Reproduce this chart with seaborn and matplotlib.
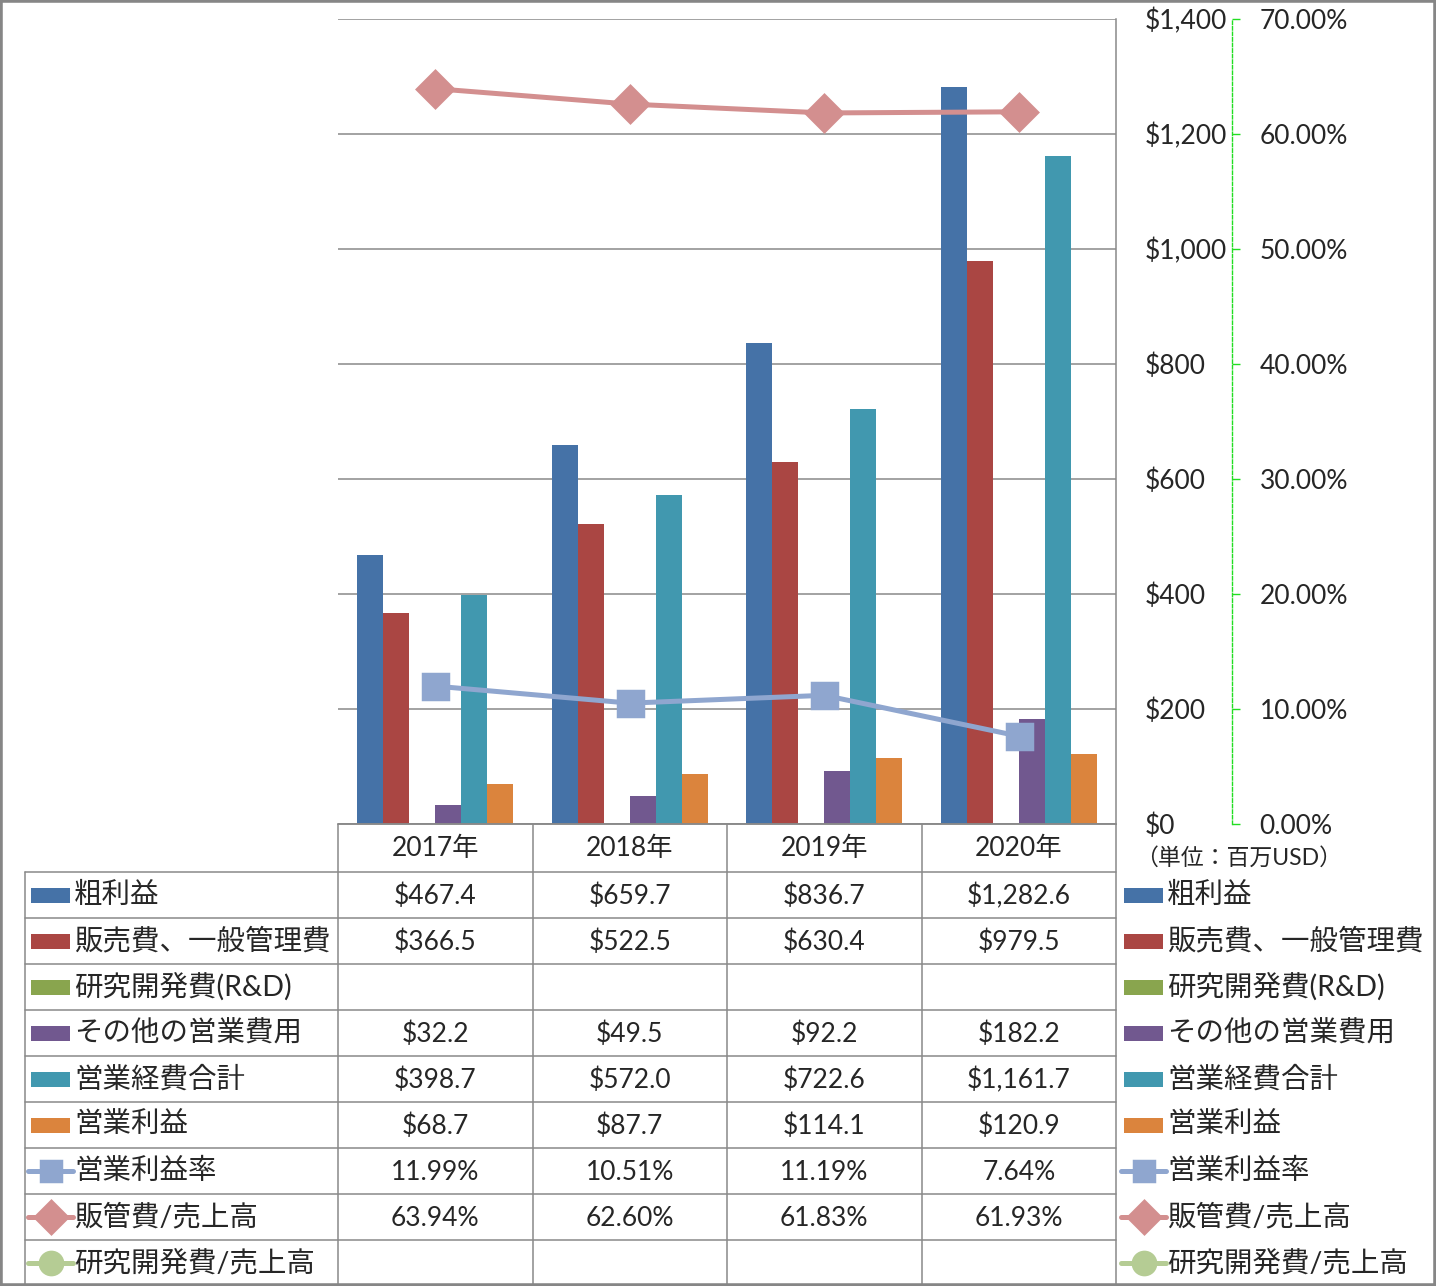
import numpy as np
import pandas as pd
import seaborn as sns
import matplotlib
matplotlib.use('Agg')
import matplotlib.pyplot as plt
from matplotlib.transforms import blended_transform_factory
from matplotlib.patches import Rectangle
from matplotlib.lines import Line2D
from matplotlib.ticker import FuncFormatter, FixedLocator

# ---------------- data ----------------
years = ['2017年', '2018年', '2019年', '2020年']
bar_series = ['粗利益', '販売費、一般管理費', '研究開発費(R&D)', 'その他の営業費用', '営業経費合計', '営業利益']
gross_profit = [467.4, 659.7, 836.7, 1282.6]
sga = [366.5, 522.5, 630.4, 979.5]
rnd = [np.nan, np.nan, np.nan, np.nan]
other_opex = [32.2, 49.5, 92.2, 182.2]
total_opex = [398.7, 572.0, 722.6, 1161.7]
op_income = [68.7, 87.7, 114.1, 120.9]

line_series = ['営業利益率', '販管費/売上高', '研究開発費/売上高']
op_margin = [11.99, 10.51, 11.19, 7.64]
sga_ratio = [63.94, 62.60, 61.83, 61.93]
rnd_ratio = [np.nan, np.nan, np.nan, np.nan]

left_ticks = [0, 200, 400, 600, 800, 1000, 1200, 1400]
right_ticks = [0, 10, 20, 30, 40, 50, 60, 70]
unit_label = '（単位：百万USD）'

bar_colors = ['#4572A7', '#AA4643', '#89A54E', '#71588F', '#4198AF', '#DB843D']
line_colors = ['#8FA6CF', '#D38F8F', '#B5CC94']
line_markers = ['s', 'D', 'o']

bar_values = [gross_profit, sga, rnd, other_opex, total_opex, op_income]
line_values = [op_margin, sga_ratio, rnd_ratio]

# ---------------- style ----------------
sns.set_style('white')
plt.rcParams['font.family'] = ['Lato', 'Noto Sans CJK JP']
GRAY = '#898989'

W, H = 1436, 1286
fig = plt.figure(figsize=(W / 100, H / 100), dpi=100)

x0, x1, y0, y1 = 338, 1116, 19, 824
ax = fig.add_axes([x0 / W, 1 - y1 / H, (x1 - x0) / W, (y1 - y0) / H])

rows = []
for s, vals in zip(bar_series, bar_values):
    for yr, v in zip(years, vals):
        rows.append({'year': yr, 'series': s, 'value': v})
df = pd.DataFrame(rows)

sns.barplot(data=df, x='year', y='value', hue='series', order=years,
            hue_order=bar_series, palette=dict(zip(bar_series, bar_colors)),
            saturation=1, errorbar=None, width=0.8, linewidth=0,
            legend=False, ax=ax)
ax.set_ylim(0, 1400)
ax.set_xlabel('')
ax.set_ylabel('')
ax.set_axisbelow(True)
ax.yaxis.grid(True, color=GRAY, linewidth=1.1)
ax.xaxis.grid(False)
for sp in ['top', 'left']:
    ax.spines[sp].set_visible(False)
for sp in ['bottom', 'right']:
    ax.spines[sp].set_color(GRAY)
    ax.spines[sp].set_linewidth(1.1)

# secondary axis
ax2 = ax.twinx()
xs = np.arange(len(years))
for name, vals, c, m in zip(line_series, line_values, line_colors, line_markers):
    if np.all(np.isnan(vals)):
        continue
    ms = 18 if m == 's' else 18
    sns.lineplot(x=xs, y=vals, ax=ax2, color=c, marker=m, markersize=ms,
                 linewidth=3.6, markeredgewidth=2.5, markeredgecolor=c,
                 solid_joinstyle='round', legend=False)
ax2.set_xlim(-0.5, len(years) - 0.5)
ax.set_xlim(-0.5, len(years) - 0.5)
ax2.set_ylim(0, 70)
ax2.set_ylabel('')
ax2.yaxis.set_major_locator(FixedLocator(right_ticks))
ax2.yaxis.set_major_formatter(FuncFormatter(lambda v, p: f'{v:.2f}%'))
for sp in ['top', 'left', 'bottom']:
    ax2.spines[sp].set_visible(False)
ax2.spines['right'].set_position(('outward', 83.5))
ax2.spines['right'].set_color('#22DD22')
ax2.spines['right'].set_linestyle((0, (2.5, 1.5)))
ax2.spines['right'].set_linewidth(1.0)
ax2.tick_params(axis='y', direction='out', length=6, width=1, color='#22DD22',
                pad=14, labelsize=19)
ax2.grid(False)

# primary axis ticks (after twinx, which moves them to the left)
ax.yaxis.set_major_locator(FixedLocator(left_ticks))
ax.yaxis.set_major_formatter(FuncFormatter(lambda v, p: f'${v:,.0f}'))
ax.yaxis.tick_right()
ax.yaxis.set_label_position('right')
ax.tick_params(axis='y', which='both', left=False, right=True, labelleft=False,
               labelright=True, length=0, pad=21, labelsize=19)
ax.tick_params(axis='x', length=0, labelbottom=False)

# ---------------- data table ----------------
tab = fig.add_axes([0, 0, 1, 1])
tab.set_xlim(0, W)
tab.set_ylim(H, 0)
tab.axis('off')
tab.patch.set_alpha(0)
bt = blended_transform_factory(ax.transData, tab.transData)

header_top, header_bot = 824, 872
row_h = (H - header_bot) / 9.0
all_names = bar_series + line_series
all_vals = bar_values + line_values
all_fmt = ['money'] * len(bar_series) + ['pct'] * len(line_series)

# vertical lines
for xb in np.arange(-0.5, len(years)):
    tab.plot([xb, xb], [header_top, H], color=GRAY, lw=1.1, transform=bt,
             solid_capstyle='butt')
tab.plot([25, 25], [header_bot, H], color=GRAY, lw=1.1)
# horizontal lines
tab.plot([x0, x1], [header_top, header_top], color=GRAY, lw=1.1)
for i in range(9):
    yy = header_bot + i * row_h
    tab.plot([25, x1], [yy, yy], color=GRAY, lw=1.1)

# header
for i, yr in enumerate(years):
    tab.text(i, (header_top + header_bot) / 2, yr, transform=bt, ha='center',
             va='center', fontsize=19)

tab.text(1135, 858, unit_label, ha='left', va='center', fontsize=16.5)

for r, (name, vals, fmt) in enumerate(zip(all_names, all_vals, all_fmt)):
    yc = header_bot + (r + 0.5) * row_h
    for i, v in enumerate(vals):
        if np.isnan(v):
            continue
        s = f'${v:,.1f}' if fmt == 'money' else f'{v:.2f}%'
        tab.text(i, yc + 1, s, transform=bt, ha='center', va='center', fontsize=19)
    for kx, tx in [(31, 74), (1124, 1167)]:
        if r < len(bar_series):
            tab.add_patch(Rectangle((kx, yc - 7.5), 39, 15,
                                    facecolor=bar_colors[r], edgecolor='none'))
        else:
            li = r - len(bar_series)
            tab.add_line(Line2D([kx - 3, kx + 42], [yc, yc], color=line_colors[li],
                                lw=3.6, solid_capstyle='round'))
            ms = 15 if line_markers[li] == 's' else 16
            tab.add_line(Line2D([kx + 19.5], [yc], marker=line_markers[li],
                                markersize=ms, color=line_colors[li],
                                markeredgecolor=line_colors[li],
                                markeredgewidth=2.5, linestyle='none'))
        tab.text(tx, yc, name, ha='left', va='center', fontsize=20.5)

# outer border
fig.patches.append(Rectangle((0, 0), 1, 1, transform=fig.transFigure, fill=False,
                             edgecolor='#868686', linewidth=4))

fig.savefig('out.png', dpi=100)
